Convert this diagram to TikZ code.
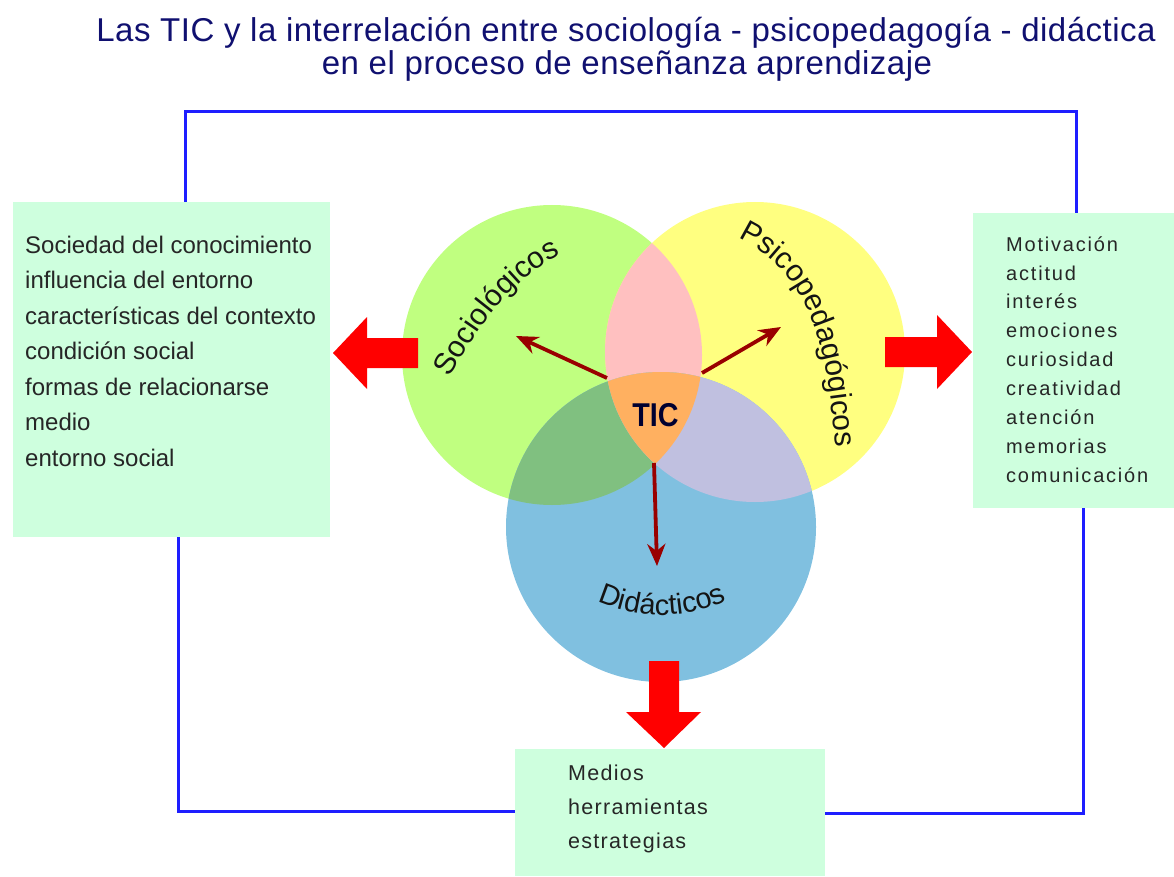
\documentclass[tikz,border=0pt]{standalone}
\usepackage{fontspec}
\setmainfont{Liberation Sans}
\usetikzlibrary{arrows.meta,decorations.text}
\definecolor{titleblue}{RGB}{16,16,112}
\definecolor{cgreen}{RGB}{192,255,128}
\definecolor{cyellow}{RGB}{255,255,128}
\definecolor{cblue}{RGB}{128,192,224}
\definecolor{cpink}{RGB}{255,192,192}
\definecolor{cgb}{RGB}{128,192,128}
\definecolor{cyb}{RGB}{192,192,224}
\definecolor{corange}{RGB}{255,176,96}
\definecolor{mint}{RGB}{206,255,222}
\definecolor{linkblue}{RGB}{30,30,255}
\definecolor{darkred}{RGB}{153,0,0}
\definecolor{bigred}{RGB}{255,0,0}
\definecolor{tictext}{RGB}{0,0,48}
\definecolor{labeltext}{RGB}{20,20,20}
\newcommand\circlabelfont{\fontsize{30pt}{30pt}\selectfont}
\newcommand\didlabelfont{\fontsize{29pt}{29pt}\selectfont}
\begin{document}
\begin{tikzpicture}[x=1pt,y=1pt,
  panel/.style={rectangle, fill=mint, draw=none, inner sep=0pt, outer sep=0pt, anchor=north west},
  link/.style={draw=linkblue, line width=3pt},
  ray/.style={draw=darkred, line width=3.8pt, -{Stealth[length=22pt,width=18pt,inset=7pt]}},
  bigarrow/.style={fill=bigred},
  listtext/.style={anchor=north west, inner sep=0pt, align=left, text=black!85},
  titletext/.style={anchor=base, inner sep=0pt, text=titleblue, font={\fontsize{33pt}{34pt}\selectfont\addfontfeatures{LetterSpace=1.5}}},
  curvelabel/.style={decorate, decoration={text along path, text align={fit to path}, text color=labeltext, text={#1}}}]
\useasboundingbox (0,0) rectangle (1174,-877);

% title
\node[titletext] (title1) at (626,-42) {Las TIC y la interrelación entre sociología - psicopedagogía - didáctica};
\node[titletext] (title2) at (627,-75) {en el proceso de enseñanza aprendizaje};

% circles
\coordinate (cS) at (552,-355);
\coordinate (cP) at (755,-352);
\coordinate (cD) at (661,-527);
\fill[cgreen] (cS) circle[radius=150];
\fill[cyellow] (cP) circle[radius=150];
\fill[cblue] (cD) circle[radius=155];
\begin{scope}\clip (cS) circle[radius=150]; \fill[cpink] (cP) circle[radius=150]; \end{scope}
\begin{scope}\clip (cS) circle[radius=150]; \fill[cgb] (cD) circle[radius=155]; \end{scope}
\begin{scope}\clip (cP) circle[radius=150]; \fill[cyb] (cD) circle[radius=155]; \end{scope}
\begin{scope}\clip (cS) circle[radius=150]; \clip (cP) circle[radius=150]; \fill[corange] (cD) circle[radius=155]; \end{scope}

% curved labels
\path[curvelabel={|\circlabelfont|Sociológicos}]
  (450,-378) .. controls (477,-330) and (511,-278) .. (561,-255);
\path[curvelabel={|\circlabelfont|Psicopedagógicos}]
  (738,-238) .. controls (815,-274) and (828,-357) .. (835,-442);
\path[curvelabel={|\didlabelfont|Didácticos}]
  ([shift={(246:157)}]661,-458) arc[start angle=246, end angle=294, radius=157];

% TIC
\node[font=\bfseries\fontsize{33pt}{33pt}\selectfont, text=tictext, inner sep=0pt] (tic) at (655.5,-415) {\scalebox{0.87}[1]{TIC}};

% dark red rays
\coordinate (rSa) at (607,-378); \coordinate (rSb) at (516,-336);
\coordinate (rPa) at (702,-373); \coordinate (rPb) at (781,-327);
\coordinate (rDa) at (654,-463); \coordinate (rDb) at (657,-566);
\draw[ray] (rSa) -- (rSb);
\draw[ray] (rPa) -- (rPb);
\draw[ray] (rDa) -- (rDb);

% big red block arrows
\fill[bigarrow] (333,-353) -- (367,-317) -- (367,-338) -- (418,-338) -- (418,-368) -- (367,-368) -- (367,-389) -- cycle;
\fill[bigarrow] (972,-352) -- (937,-315) -- (937,-337) -- (885,-337) -- (885,-367) -- (937,-367) -- (937,-389) -- cycle;
\fill[bigarrow] (664,-748) -- (626,-712) -- (649,-712) -- (649,-661) -- (679,-661) -- (679,-712) -- (701,-712) -- cycle;

% boxes
\node[panel, minimum width=317pt, minimum height=335pt] (lbox) at (13,-202) {};
\node[panel, minimum width=201pt, minimum height=295pt] (rbox) at (973,-213) {};
\node[panel, minimum width=310pt, minimum height=127pt] (bbox) at (515,-749) {};

\node[listtext, font=\fontsize{24pt}{35.5pt}\selectfont] (ltext) at (25,-235.8)
  {Sociedad del conocimiento\\influencia del entorno\\características del contexto\\condición social\\formas de relacionarse\\medio\\entorno social};
\node[listtext, font={\fontsize{20pt}{28.9pt}\selectfont\addfontfeatures{LetterSpace=9}}] (rtext) at (1006,-236.2)
  {Motivación\\actitud\\interés\\emociones\\curiosidad\\creatividad\\atención\\memorias\\comunicación};
\node[listtext, font={\fontsize{21.5pt}{34pt}\selectfont\addfontfeatures{LetterSpace=6}}] (btext) at (568,-764.6)
  {Medios\\herramientas\\estrategias};

% blue connectors
\coordinate (tl) at (185,-112);
\coordinate (tr) at (1076,-112);
\coordinate (bl) at (178,-811);
\coordinate (br) at (1083,-813);
\draw[link] (lbox.north -| tl) -- (tl) -- (tr) -- (rbox.north -| tr);
\draw[link] (lbox.south -| bl) -- (bl) -- (bbox.west |- bl);
\draw[link] (rbox.south -| br) -- (br) -- (bbox.east |- br);
\end{tikzpicture}
\end{document}
